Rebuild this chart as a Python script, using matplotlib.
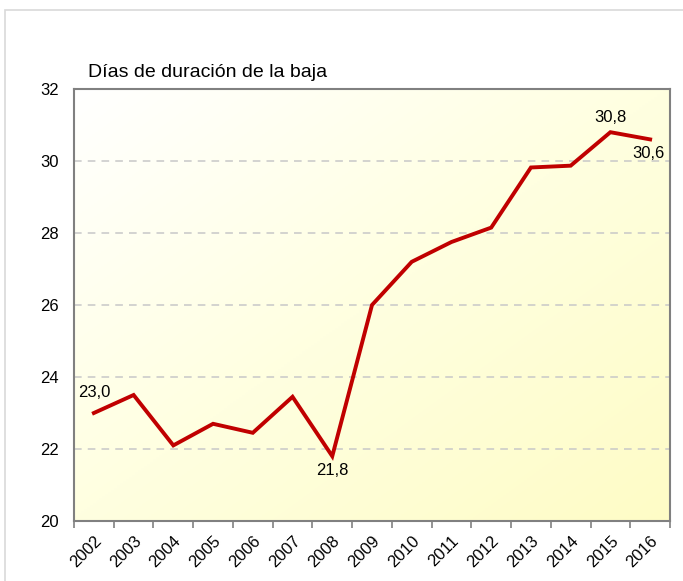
import numpy as np
import matplotlib.pyplot as plt
from matplotlib.colors import LinearSegmentedColormap
from matplotlib.patches import Rectangle

plt.rcParams['font.family'] = ['Liberation Sans', 'DejaVu Sans']

# Data
years = ['2002', '2003', '2004', '2005', '2006', '2007', '2008', '2009',
         '2010', '2011', '2012', '2013', '2014', '2015', '2016']
dias = [23.0, 23.5, 22.1, 22.7, 22.45, 23.45, 21.8, 26.0,
        27.2, 27.75, 28.15, 29.82, 29.87, 30.8, 30.6]
labeled = {0: '23,0', 6: '21,8', 13: '30,8', 14: '30,6'}

fig = plt.figure(figsize=(6.83, 5.81), dpi=100)
fig.patch.set_facecolor('white')
# outer grey frame (top and left edges visible)
fig.patches.append(Rectangle((5 / 683, -0.1), 1.2, 1 - 10 / 581 + 0.1,
                             transform=fig.transFigure, fill=False,
                             edgecolor='#d9d9d9', linewidth=1.2))

ax = fig.add_axes([74 / 683, 1 - 521 / 581, 596 / 683, 432 / 581])

# diagonal white -> pale yellow background
cmap = LinearSegmentedColormap.from_list('bg', ['#ffffff', '#ffffe0', '#fefcc6'])
gx, gy = np.meshgrid(np.linspace(0, 1, 200), np.linspace(0, 1, 200))
grad = (gx + gy) / 2
ax.imshow(grad, cmap=cmap, extent=[0, 1, 0, 1], transform=ax.transAxes,
          aspect='auto', zorder=0, origin='upper')

x = np.arange(len(years))
ax.plot(x, dias, color='#c00000', linewidth=2.8, zorder=3, solid_joinstyle='miter')

ax.set_xlim(-0.5, len(years) - 0.5)
ax.set_ylim(20, 32)
ax.set_yticks(range(20, 33, 2))
ax.set_xticks(np.arange(-0.5, len(years), 1))
ax.set_xticklabels([])
ax.set_xticks(x, minor=True)
ax.set_xticklabels(years, minor=True, rotation=45, ha='right', va='top',
                   rotation_mode='anchor', fontsize=12)
ax.tick_params(axis='x', which='minor', length=0, pad=9)
ax.tick_params(axis='x', which='major', length=5, width=1.2, color='#808080')
ax.tick_params(axis='y', length=0, labelsize=12, pad=11)

for yv in range(22, 32, 2):
    ax.axhline(yv, color='#c8c8c8', linestyle=(0, (5, 4)), linewidth=1.1, zorder=1)

for s in ax.spines.values():
    s.set_color('#808080')
    s.set_linewidth(1.5)

offsets = {0: (0, 15), 6: (0, -10), 13: (0, 10.5), 14: (-1.5, -10)}
for i, txt in labeled.items():
    dx, dy = offsets[i]
    ax.annotate(txt, (x[i], dias[i]), xytext=(dx, dy), textcoords='offset points',
                ha='center', va='center', fontsize=12, zorder=4)

fig.text(88 / 683, 1 - 77 / 581, 'Días de duración de la baja', fontsize=14,
         ha='left', va='baseline')

fig.savefig('out.png', dpi=100)
